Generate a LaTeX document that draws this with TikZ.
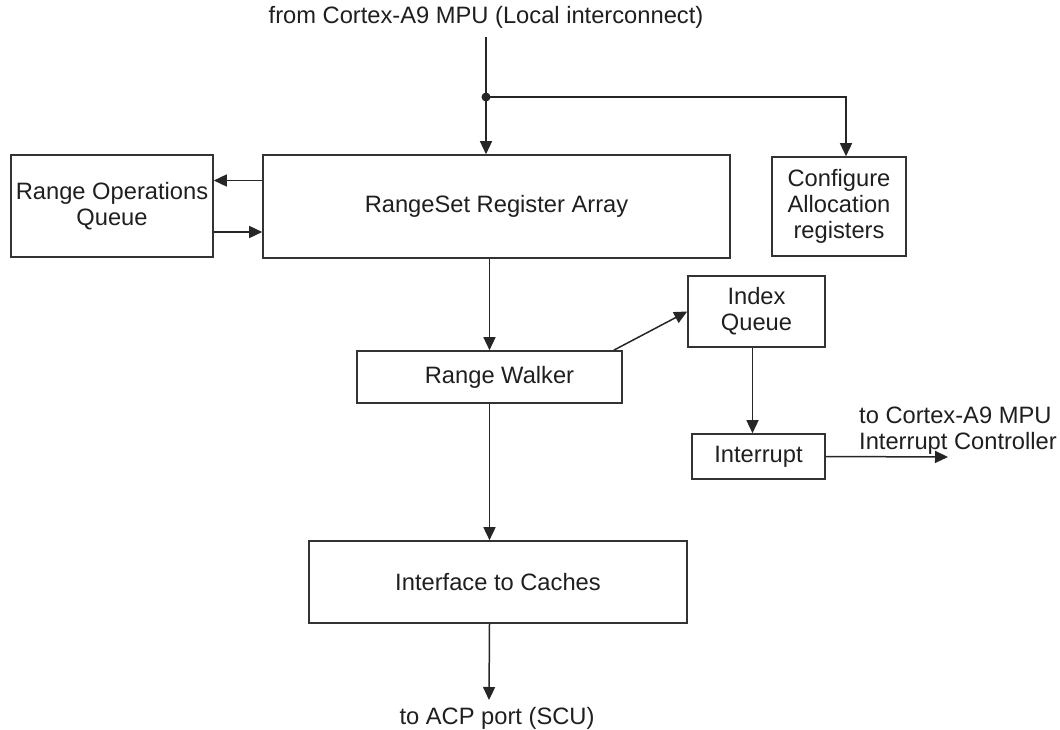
\documentclass[tikz,border=0pt]{standalone}
\usepackage{fontspec}
\setmainfont{Liberation Sans}
\usetikzlibrary{arrows.meta}
\begin{document}
\begin{tikzpicture}[x=1pt,y=-1pt,
  every node/.style={font=\fontsize{23.7}{26}\selectfont, text=black!88},
  box/.style={draw=black!80, line width=1.6pt, inner sep=0pt, align=center},
  txt/.style={inner sep=0pt, align=center},
  arr/.style={draw=black!85, line width=1.5pt, -{Triangle[length=13pt,width=12pt]}},
  ln/.style={draw=black!85, line width=1.5pt}]
\useasboundingbox (0,0) rectangle (1060,730);

\node[txt] (src) at (486,17) {from Cortex-A9 MPU (Local interconnect)};
\node[box, minimum width=202pt, minimum height=102pt] (roq) at (112,206) {Range Operations\\Queue};
\node[box, minimum width=467pt, minimum height=103pt] (rsra) at (496.5,206.5) {RangeSet Register Array};
\node[box, minimum width=134pt, minimum height=99pt] (cfg) at (839,206.5) {Configure\\Allocation\\registers};
\node[box, minimum width=265pt, minimum height=52pt] (rw) at (489.5,377) {\hspace*{20pt}Range Walker};
\node[box, minimum width=137pt, minimum height=71pt] (iq) at (756.5,311.5) {Index\\Queue};
\node[box, minimum width=133pt, minimum height=45pt] (int) at (758.5,456.5) {Interrupt};
\node[box, minimum width=378pt, minimum height=82pt] (ifc) at (498,582) {Interface to Caches};
\node[txt, anchor=west, align=left] (mpu) at (859,431) {to Cortex-A9 MPU\\Interrupt Controller};
\node[txt] (acp) at (497,718) {to ACP port (SCU)};

\coordinate (dot) at (486,97);
\coordinate (cfgin) at (846,97);
\coordinate (srcend) at (486,37);
\coordinate (intout) at (948,457);
\coordinate (acpend) at (489,700);
\coordinate (u1) at ([yshift=26pt]rsra.west);
\coordinate (u2) at ([yshift=-26pt]roq.east);
\coordinate (rwout) at ([xshift=-9pt]rw.north east);

\draw[ln] (srcend) -- (dot);
\draw[arr] (dot) -- (dot |- rsra.north);
\draw[arr] (dot) -- (cfgin) -- (cfgin |- cfg.north);
\fill[black!85] (dot) circle (4.5pt);
\draw[arr] (u1) -- (u1 -| roq.east);
\draw[arr] (u2) -- (u2 -| rsra.west);
\draw[arr] (rw.north |- rsra.south) -- (rw.north);
\draw[arr] (rwout) -- (iq.west);
\draw[arr] ([xshift=-4pt]iq.south) -- ([xshift=-4pt]iq.south |- int.north);
\draw[arr] (int.east) -- (intout);
\draw[arr] (rw.south) -- (rw.south |- ifc.north);
\draw[arr] (rw.south |- ifc.south) -- (acpend);
\end{tikzpicture}
\end{document}
